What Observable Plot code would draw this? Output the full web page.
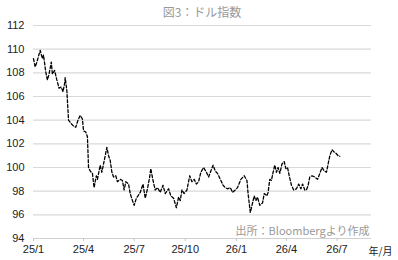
<!DOCTYPE html>
<html>
<head>
<meta charset="utf-8">
<script src="https://cdn.jsdelivr.net/npm/d3@7"></script>
<script src="https://cdn.jsdelivr.net/npm/@observablehq/plot@0.6"></script>
<style>
  html, body { margin: 0; padding: 0; background: #fff; }
  #wrap { position: relative; width: 398px; height: 260px; font-family: "Liberation Sans", "Noto Sans CJK JP", sans-serif; }
  #title { position: absolute; top: 4px; left: 0; width: 404px; text-align: center; font-size: 12px; color: #999; font-family: "Noto Sans CJK JP", sans-serif; line-height: 16px; }
  #chart { position: absolute; top: 0; left: 0; }
</style>
</head>
<body>
<div id="wrap">
  <div id="chart"></div>
  <div id="title">図3：ドル指数</div>
</div>
<script>
const titleText = "図3：ドル指数";
const sourceText = "出所：Bloombergより作成";
const unitText = "年/月";

const dates = [
  "2025-01-01","2025-01-04","2025-01-07","2025-01-13","2025-01-17","2025-01-19","2025-01-23","2025-01-26","2025-01-29",
  "2025-02-02","2025-02-04","2025-02-08","2025-02-12","2025-02-16","2025-02-20","2025-02-23","2025-02-26","2025-02-27",
  "2025-03-02","2025-03-05","2025-03-10","2025-03-14","2025-03-18","2025-03-22","2025-03-26","2025-03-30",
  "2025-04-01","2025-04-05","2025-04-08","2025-04-10","2025-04-13","2025-04-17","2025-04-20","2025-04-24","2025-04-26",
  "2025-05-01","2025-05-04","2025-05-07","2025-05-13","2025-05-16","2025-05-19","2025-05-22","2025-05-25","2025-05-29",
  "2025-06-01","2025-06-06","2025-06-10","2025-06-13","2025-06-16","2025-06-21","2025-06-24","2025-06-28",
  "2025-07-01","2025-07-05","2025-07-08","2025-07-12","2025-07-17","2025-07-21","2025-07-25","2025-07-29","2025-07-31",
  "2025-08-04","2025-08-08","2025-08-12","2025-08-17","2025-08-22","2025-08-26",
  "2025-09-01","2025-09-05","2025-09-10","2025-09-15","2025-09-19","2025-09-22","2025-09-25","2025-09-29",
  "2025-10-04","2025-10-09","2025-10-13","2025-10-17","2025-10-21","2025-10-25","2025-10-29",
  "2025-11-03","2025-11-08","2025-11-12","2025-11-16","2025-11-20","2025-11-24","2025-11-28",
  "2025-12-03","2025-12-08","2025-12-12","2025-12-16","2025-12-21","2025-12-25","2025-12-30",
  "2026-01-03","2026-01-09","2026-01-15","2026-01-20","2026-01-22","2026-01-26","2026-01-29",
  "2026-02-02","2026-02-05","2026-02-08","2026-02-12","2026-02-17","2026-02-20","2026-02-25","2026-02-27",
  "2026-03-02","2026-03-05","2026-03-08","2026-03-11","2026-03-14","2026-03-17","2026-03-20","2026-03-24","2026-03-28","2026-03-31",
  "2026-04-03","2026-04-06","2026-04-10","2026-04-14","2026-04-19","2026-04-23","2026-04-27","2026-04-30",
  "2026-05-04","2026-05-07","2026-05-10","2026-05-13","2026-05-17","2026-05-22","2026-05-27","2026-05-31",
  "2026-06-04","2026-06-08","2026-06-12","2026-06-15","2026-06-18","2026-06-22","2026-06-26","2026-06-29",
  "2026-07-03","2026-07-06"
];
const values = [
  109.2,108.5,108.9,109.9,109.2,109.5,108.1,107.4,107.9,
  108.9,107.9,108.2,107.4,106.7,106.8,106.4,107.1,107.6,
  106.5,104.0,103.7,103.5,103.4,104.0,104.4,104.1,
  103.1,103.0,102.6,100.0,99.7,99.5,98.3,99.3,99.0,
  100.2,99.6,100.3,101.7,101.0,100.6,99.6,99.2,99.3,
  98.8,99.0,98.9,98.1,98.8,98.6,97.8,97.2,
  96.8,97.4,97.6,97.9,98.6,97.4,98.2,99.2,99.9,
  98.9,98.1,98.3,97.9,98.5,97.8,
  98.2,97.6,97.4,96.6,97.5,97.2,98.1,97.8,
  98.1,99.3,98.8,99.0,98.6,98.8,99.6,
  100.0,99.6,99.2,99.7,100.2,99.7,99.5,
  99.0,98.5,98.3,98.2,98.3,97.9,98.1,
  98.3,99.0,99.3,98.9,97.8,96.2,96.8,
  97.6,97.2,97.5,96.8,97.0,97.8,97.6,97.9,
  99.0,98.9,99.6,100.2,99.6,100.0,99.5,100.3,100.5,99.9,
  100.0,99.3,98.5,98.1,98.2,98.6,98.2,98.6,
  98.1,98.1,98.5,99.2,99.3,99.2,99.0,99.5,
  100.0,99.7,99.6,100.3,101.0,101.5,101.3,101.2,
  101.0,100.95
];

const yTicks = [94, 96, 98, 100, 102, 104, 106, 108, 110, 112];
const xTickDates = ["2025-01-01","2025-04-01","2025-07-01","2025-10-01","2026-01-01","2026-04-01","2026-07-01"];
const xTickLabels = ["25/1","25/4","25/7","25/10","26/1","26/4","26/7"];
const xDomain = ["2025-01-01", "2026-09-01"];

const data = dates.map((d, i) => ({date: new Date(d), value: values[i]}));
const xTicks = xTickDates.map(d => new Date(d));

const chart = Plot.plot({
  width: 398,
  height: 260,
  marginTop: 25,
  marginBottom: 22,
  marginLeft: 33,
  marginRight: 27,
  style: {fontFamily: "'Liberation Sans', 'Noto Sans CJK JP', sans-serif", fontSize: "11px", color: "#222", background: "transparent", overflow: "visible"},
  x: {type: "utc", domain: xDomain.map(d => new Date(d))},
  y: {domain: [94, 112]},
  marks: [
    Plot.gridY(yTicks.filter(t => t !== 94), {stroke: "#d9d9d9", strokeOpacity: 1, strokeWidth: 1.2}),
    Plot.ruleY([94], {stroke: "#d0d0d0", strokeWidth: 1.2}),
    Plot.axisY({ticks: yTicks, tickSize: 0, tickPadding: 9, fontSize: 11, fill: "#222", label: null}),
    Plot.axisX({ticks: xTicks, tickFormat: (d, i) => xTickLabels[i], tickSize: 3, stroke: "#c8c8c8", tickPadding: 4, fontSize: 11, fill: "#222", label: null}),
    Plot.lineY(data, {x: "date", y: "value", stroke: "#000", strokeWidth: 1.3, strokeDasharray: "3,2"}),
    Plot.text([sourceText], {frameAnchor: "bottom-right", dx: -2, dy: -4, fill: "#999", fontSize: 11, fontFamily: "'Noto Sans CJK JP', sans-serif"}),
    Plot.text([unitText], {frameAnchor: "bottom-right", dx: 21, dy: 16, fill: "#222", fontSize: 10, fontFamily: "'Noto Sans CJK JP', sans-serif", textAnchor: "end"})
  ]
});
document.getElementById("chart").appendChild(chart);
</script>
</body>
</html>
